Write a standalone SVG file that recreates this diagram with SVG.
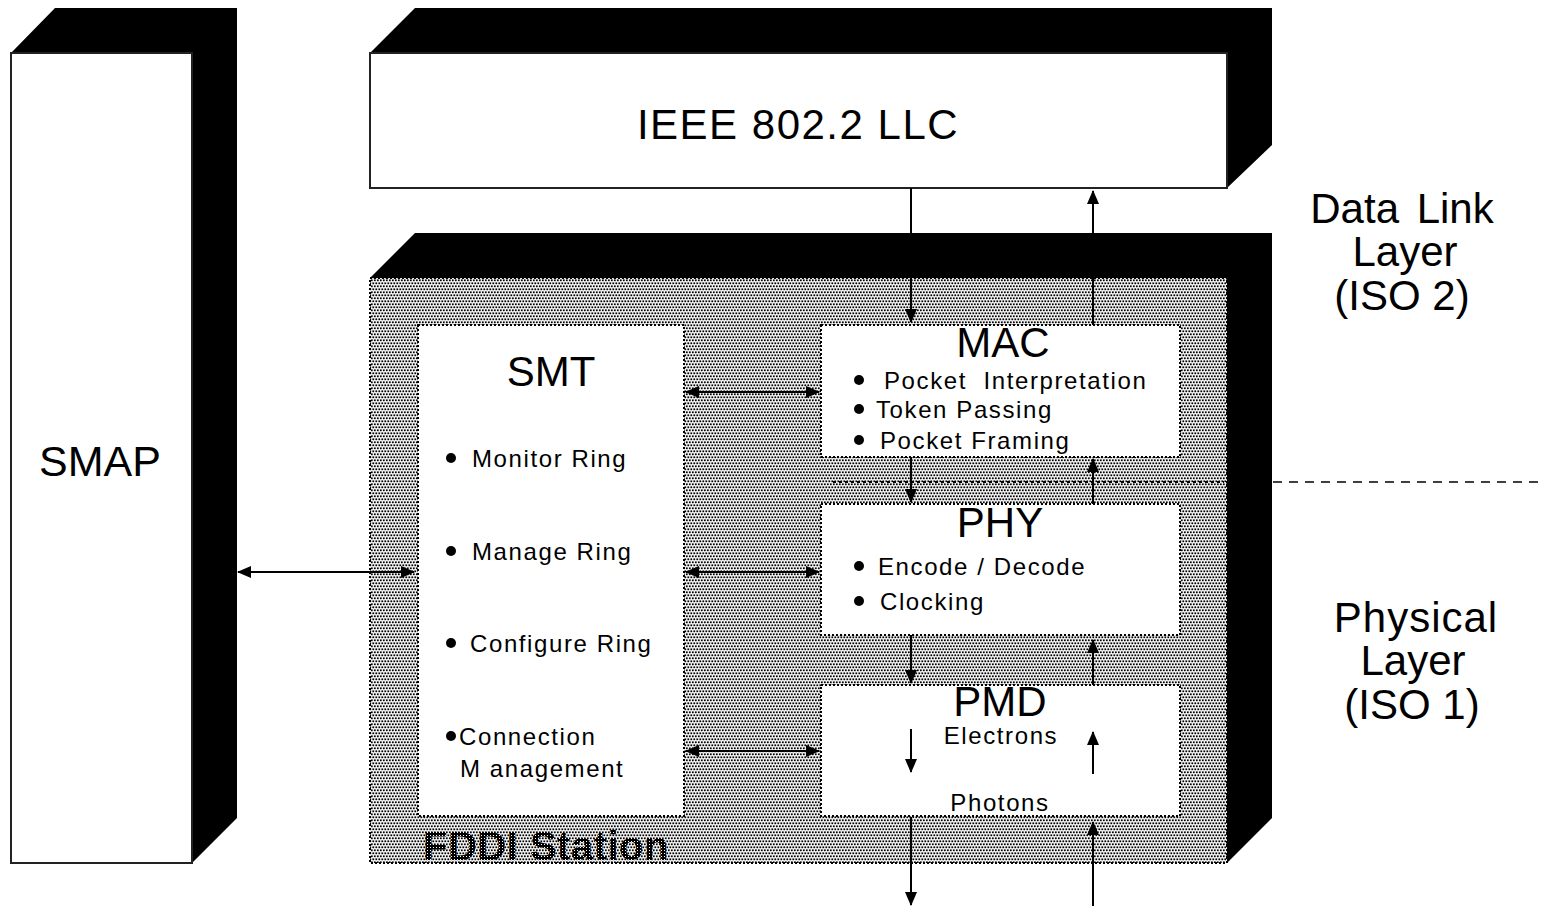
<svg xmlns="http://www.w3.org/2000/svg" width="1542" height="906" viewBox="0 0 1542 906">
<defs>
<pattern id="dots" width="3" height="6" patternUnits="userSpaceOnUse">
<rect width="3" height="6" fill="#ffffff"/>
<rect x="0.4" y="0.4" width="1.8" height="1.8" fill="#000"/>
<rect x="1.9" y="3.4" width="1.8" height="1.8" fill="#000"/>
<rect x="-1.1" y="3.4" width="1.8" height="1.8" fill="#000"/>
</pattern>
<pattern id="darkdots" width="3" height="3" patternUnits="userSpaceOnUse">
<rect width="3" height="3" fill="#000"/>
<rect x="1" y="1" width="1" height="1" fill="#fff"/>
</pattern>
<marker id="ah" markerUnits="userSpaceOnUse" markerWidth="14" markerHeight="12" refX="13" refY="6" orient="auto-start-reverse">
<path d="M0,0 L14,6 L0,12 z" fill="#000"/>
</marker>
</defs>
<style>
.blk{fill:#000}
.front{fill:#fff;stroke:#222;stroke-width:2}
.inner{fill:#fff;stroke:#000;stroke-width:2;stroke-dasharray:2 2}
.t{font-family:"Liberation Sans",Arial,sans-serif;fill:#000}
.big{font-size:42px}
.lab{font-size:42px}
.item{font-size:24px;letter-spacing:1.6px}
.ln{stroke:#000;stroke-width:2;fill:none}
</style>

<g id="smap">
<path class="blk" d="M11,53 L55,8 L237,8 L237,818 L192,863 L192,53 Z"/>
<rect class="front" x="11" y="53" width="181" height="810"/>
<text class="t" x="100" y="476" text-anchor="middle" font-size="43">SMAP</text>
</g>

<g id="llc">
<path class="blk" d="M370,53 L415,8 L1272,8 L1272,145 L1227,188 L1227,53 Z"/>
<rect class="front" x="370" y="53" width="857" height="135"/>
<text class="t" x="798" y="139" text-anchor="middle" font-size="42" letter-spacing="1.5">IEEE 802.2 LLC</text>
</g>

<g id="fddi">
<path class="blk" d="M370,278 L415,233 L1272,233 L1272,818 L1227,863 L1227,278 Z"/>
<rect x="370" y="278" width="857" height="585" fill="url(#dots)" stroke="#000" stroke-width="2" stroke-dasharray="2 2"/>
<text class="t" x="423" y="860" font-size="40" font-weight="bold" style="fill:url(#darkdots)" letter-spacing="0.5">FDDI Station</text>
</g>

<g id="smt">
<rect class="inner" x="418" y="325" width="266" height="491"/>
<text class="t big" x="551" y="386" text-anchor="middle">SMT</text>
<circle cx="451" cy="458" r="5"/>
<text class="t item" x="472" y="467">Monitor Ring</text>
<circle cx="451" cy="551" r="5"/>
<text class="t item" x="472" y="560">Manage Ring</text>
<circle cx="451" cy="643" r="5"/>
<text class="t item" x="470" y="652" letter-spacing="2">Configure Ring</text>
<circle cx="451" cy="736" r="5"/>
<text class="t item" x="459" y="745">Connection</text>
<text class="t item" x="460" y="777">M anagement</text>
</g>

<g id="mac">
<rect class="inner" x="821" y="325" width="359" height="132"/>
<text class="t big" x="1003" y="357" text-anchor="middle">MAC</text>
<circle cx="859" cy="380" r="5"/>
<text class="t item" x="884" y="389" xml:space="preserve">Pocket  Interpretation</text>
<circle cx="859" cy="409" r="5"/>
<text class="t item" x="876" y="418">Token Passing</text>
<circle cx="859" cy="440" r="5"/>
<text class="t item" x="880" y="449">Pocket Framing</text>
</g>

<g id="phy">
<rect class="inner" x="821" y="504" width="359" height="131"/>
<text class="t big" x="1000" y="537" text-anchor="middle">PHY</text>
<circle cx="859" cy="566" r="5"/>
<text class="t item" x="878" y="575">Encode / Decode</text>
<circle cx="859" cy="601" r="5"/>
<text class="t item" x="880" y="610">Clocking</text>
</g>

<g id="pmd">
<rect class="inner" x="821" y="685" width="359" height="131"/>
<text class="t big" x="1000" y="716" text-anchor="middle">PMD</text>
<text class="t item" x="1001" y="744" text-anchor="middle">Electrons</text>
<text class="t item" x="1000" y="811" text-anchor="middle">Photons</text>
</g>

<g id="layers">
<text class="t lab" x="1402" y="223" text-anchor="middle" word-spacing="6">Data Link</text>
<text class="t lab" x="1405" y="266" text-anchor="middle">Layer</text>
<text class="t lab" x="1402" y="310" text-anchor="middle">(ISO 2)</text>
<text class="t lab" x="1416" y="632" text-anchor="middle" letter-spacing="1">Physical</text>
<text class="t lab" x="1413" y="675" text-anchor="middle">Layer</text>
<text class="t lab" x="1412" y="719" text-anchor="middle">(ISO 1)</text>
</g>

<g id="connectors">
<line class="ln" x1="911" y1="188" x2="911" y2="322" marker-end="url(#ah)"/>
<line class="ln" x1="1093" y1="325" x2="1093" y2="191" marker-end="url(#ah)"/>
<line class="ln" x1="911" y1="457" x2="911" y2="502" marker-end="url(#ah)"/>
<line class="ln" x1="1093" y1="504" x2="1093" y2="459" marker-end="url(#ah)"/>
<line class="ln" x1="911" y1="635" x2="911" y2="683" marker-end="url(#ah)"/>
<line class="ln" x1="1093" y1="685" x2="1093" y2="640" marker-end="url(#ah)"/>
<line class="ln" x1="911" y1="729" x2="911" y2="772" marker-end="url(#ah)"/>
<line class="ln" x1="1093" y1="774" x2="1093" y2="732" marker-end="url(#ah)"/>
<line class="ln" x1="911" y1="817" x2="911" y2="905" marker-end="url(#ah)"/>
<line class="ln" x1="1093" y1="906" x2="1093" y2="822" marker-end="url(#ah)"/>
<line class="ln" x1="686" y1="392" x2="819" y2="392" marker-start="url(#ah)" marker-end="url(#ah)"/>
<line class="ln" x1="686" y1="572" x2="819" y2="572" marker-start="url(#ah)" marker-end="url(#ah)"/>
<line class="ln" x1="686" y1="751" x2="819" y2="751" marker-start="url(#ah)" marker-end="url(#ah)"/>
<line class="ln" x1="238" y1="572" x2="414" y2="572" marker-start="url(#ah)" marker-end="url(#ah)"/>
<line x1="833" y1="482" x2="1224" y2="482" stroke="#000" stroke-width="2" stroke-dasharray="3 3"/>
<line x1="1273" y1="482" x2="1542" y2="482" stroke="#000" stroke-width="1.5" stroke-dasharray="9 7"/>
</g>
</svg>
